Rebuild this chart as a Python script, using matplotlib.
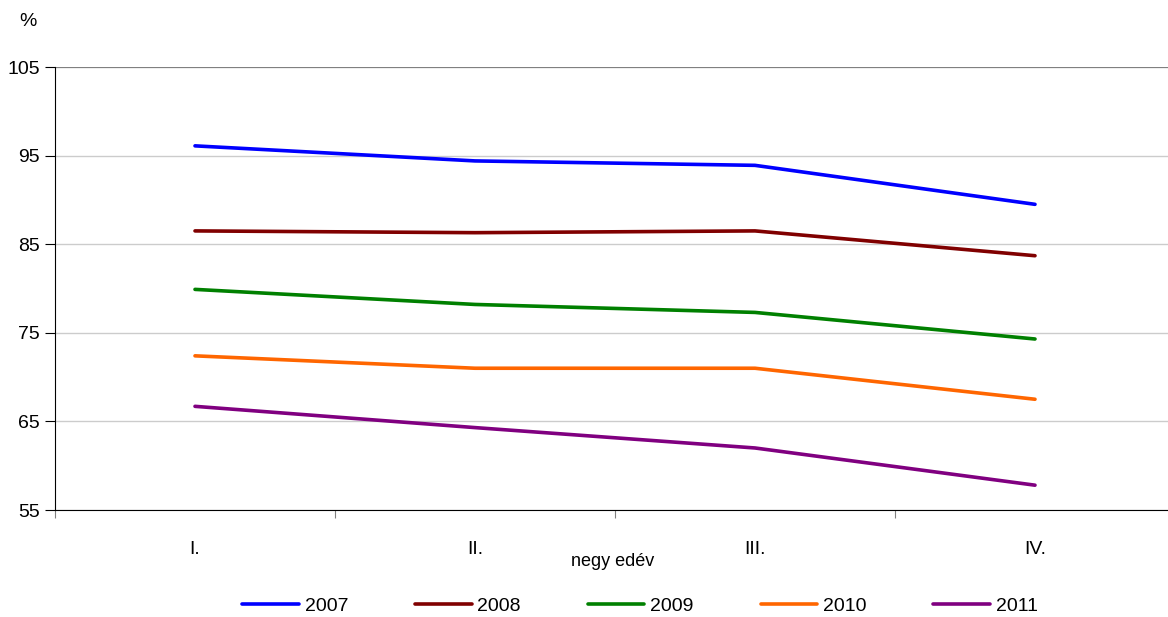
import matplotlib
matplotlib.use("Agg")
import matplotlib.pyplot as plt
from matplotlib import font_manager

categories = ["I.", "II.", "III.", "IV."]
years = ["2007", "2008", "2009", "2010", "2011"]
v2007 = [96.1, 94.4, 93.9, 89.5]
v2008 = [86.5, 86.3, 86.5, 83.7]
v2009 = [79.9, 78.2, 77.3, 74.3]
v2010 = [72.4, 71.0, 71.0, 67.5]
v2011 = [66.7, 64.3, 62.0, 57.8]
colors = ["#0000FF", "#800000", "#008000", "#FF6600", "#800080"]
yticks = [55, 65, 75, 85, 95, 105]

names = {f.name for f in font_manager.fontManager.ttflist}
fam = ["Liberation Sans Narrow", "Liberation Sans", "DejaVu Sans"]
fam = [f for f in fam if f in names] or ["DejaVu Sans"]
plt.rcParams["font.family"] = fam

fig = plt.figure(figsize=(11.68, 6.17), dpi=100)
ax = fig.add_axes([55/1168, 1-510/617, 1113/1168, (510-67)/617])

xs = [i + 0.5 for i in range(len(categories))]
for vals, c, y in zip([v2007, v2008, v2009, v2010, v2011], colors, years):
    ax.plot(xs, vals, color=c, lw=2.6, label=y, solid_capstyle="round")

ax.set_ylim(55, 105)
ax.set_xlim(0, 1113/280)
ax.set_yticks(yticks)
ax.set_yticklabels([str(t) for t in yticks], fontsize=14)
ax.yaxis.grid(True, color="#cccccc", lw=1)
ax.axhline(105, color="#808080", lw=1.5, zorder=1)
ax.set_axisbelow(True)

ax.set_xticks([0, 1, 2, 3])
ax.set_xticklabels([])
ax.set_xticks(xs, minor=True)
ax.set_xticklabels(categories, minor=True, fontsize=14)
ax.tick_params(axis="x", which="major", length=6, color="#808080", direction="out")
ax.tick_params(axis="x", which="minor", length=0, pad=22)
ax.tick_params(axis="y", length=7, direction="out", pad=4)

for s in ["top", "right"]:
    ax.spines[s].set_visible(False)
ax.spines["left"].set_color("black")
ax.spines["bottom"].set_color("black")

fig.text(613/1168, 1-561/617, "negy edév", ha="center", va="center", fontsize=13)
fig.text(28/1168, 1-22/617, "%", ha="center", va="center", fontsize=14)

fig.legend(loc="center", bbox_to_anchor=(640/1168, 1-606/617), ncol=5, frameon=False,
           fontsize=14, handlelength=2.9, columnspacing=3.45, handletextpad=0.3)

fig.savefig("out.png", dpi=100)
